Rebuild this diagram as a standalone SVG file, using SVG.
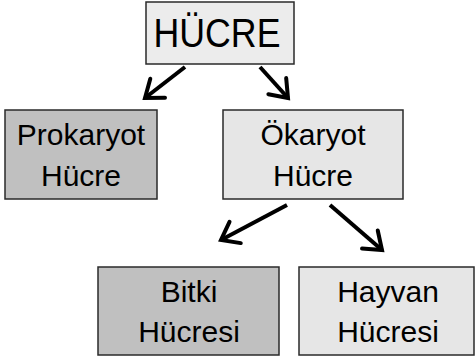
<svg xmlns="http://www.w3.org/2000/svg" width="476" height="360" viewBox="0 0 476 360">
<style>
.box{stroke:#2a2a2a;stroke-width:1.5}
.dark{fill:#c0c0c0}
.light{fill:#e6e6e6}
.top{fill:#ececec}
text{font-family:"Liberation Sans",Arial,sans-serif;fill:#000;text-anchor:middle}
.t2{font-size:30px}
.t1{font-size:41px}
.arr{stroke:#000;stroke-width:4;fill:none;marker-end:url(#ah)}
</style>
<defs>
<marker id="ah" markerWidth="8" markerHeight="8" refX="5" refY="4" orient="auto" markerUnits="strokeWidth" viewBox="0 0 8 8">
<path d="M1,1 L5,4 L1,7" fill="none" stroke="#000" stroke-width="1" stroke-linecap="round" stroke-linejoin="miter"/>
</marker>
</defs>
<rect width="476" height="360" fill="#fff"/>
<g id="connectors">
<line class="arr" x1="185" y1="67" x2="145" y2="98"/>
<line class="arr" x1="260" y1="67" x2="288" y2="98"/>
<line class="arr" x1="287" y1="205" x2="221" y2="240"/>
<line class="arr" x1="330" y1="205" x2="382" y2="250"/>
</g>
<g id="hucre">
<rect class="box top" x="146" y="2" width="148" height="62"/>
<text class="t1" x="217" y="47" textLength="127" lengthAdjust="spacingAndGlyphs">HÜCRE</text>
</g>
<g id="prokaryot">
<rect class="box dark" x="5" y="110" width="152" height="89"/>
<text class="t2" x="81" y="145">Prokaryot</text>
<text class="t2" x="81" y="186">Hücre</text>
</g>
<g id="okaryot">
<rect class="box light" x="223" y="110" width="180" height="89"/>
<text class="t2" x="313" y="145">Ökaryot</text>
<text class="t2" x="313" y="186">Hücre</text>
</g>
<g id="bitki">
<rect class="box dark" x="98" y="267" width="181" height="88"/>
<text class="t2" x="189" y="302">Bitki</text>
<text class="t2" x="189" y="342">Hücresi</text>
</g>
<g id="hayvan">
<rect class="box light" x="299" y="267" width="175" height="88"/>
<text class="t2" x="388" y="302">Hayvan</text>
<text class="t2" x="388" y="342">Hücresi</text>
</g>
</svg>
